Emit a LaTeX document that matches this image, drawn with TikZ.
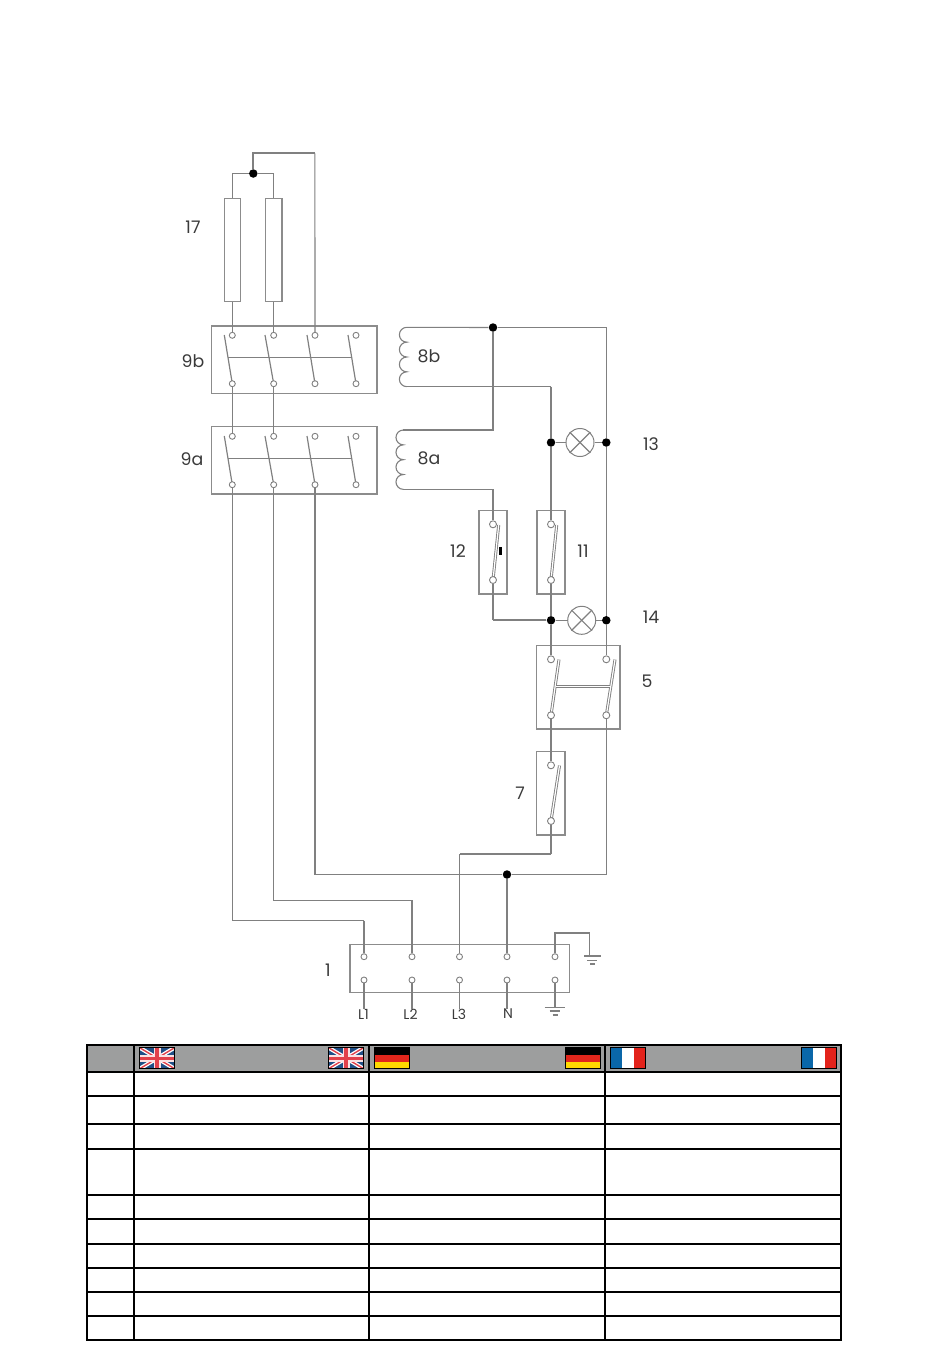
\documentclass[tikz,border=0pt]{standalone}
\usepackage{fontspec}
\setmainfont{Poppins}
\def\px{0.75pt}
\definecolor{wirecol}{HTML}{808080}
\definecolor{boxcol}{HTML}{8C8C8C}
\definecolor{hdr}{HTML}{9D9E9E}
\definecolor{labcol}{HTML}{3A3A3A}
\definecolor{ukblue}{HTML}{1F4E86}
\definecolor{ukred}{HTML}{E2414B}
\definecolor{derd}{HTML}{E1261C}
\definecolor{degd}{HTML}{FFD800}
\definecolor{frbl}{HTML}{0A67A9}
\definecolor{frrd}{HTML}{E3231B}
\tikzset{
  wire/.style={draw=wirecol,line width=1.1*\px},
  hwire/.style={draw=wirecol,line width=1.7*\px},
  devbox/.style={draw=boxcol,line width=1.2*\px,rectangle,inner sep=0pt},
  term/.style={circle,draw=wirecol,fill=white,line width=0.9*\px,minimum size=6*\px,inner sep=0pt},
  junc/.style={circle,fill=black,minimum size=8.5*\px,inner sep=0pt},
  lamp/.style={circle,draw=wirecol,line width=1*\px,minimum size=28*\px,inner sep=0pt},
  blade/.style={draw=wirecol,line width=1.2*\px},
  dblade/.style={draw=wirecol,line width=0.9*\px,double=white,double distance=1.2*\px},
  lab/.style={text=labcol,font=\fontsize{13}{15}\selectfont,inner sep=0pt},
  slab/.style={text=labcol,font=\fontsize{10.5}{12}\selectfont,inner sep=0pt},
  grid/.style={draw=black,line width=2*\px},
}
\newcommand{\ukflag}[2]{%
  \begin{scope}[shift={(#1,#2)}]
    \begin{scope}
      \clip (0,0) rectangle (35.5,21.4);
      \fill[ukblue] (0,0) rectangle (35.5,21.4);
      \draw[white,line width=4*\px] (0,0) -- (35.5,21.4) (0,21.4) -- (35.5,0);
      \draw[ukred,line width=1.4*\px] (0,0) -- (35.5,21.4) (0,21.4) -- (35.5,0);
      \draw[white!85!ukred,line width=7*\px] (17.75,0) -- (17.75,21.4) (0,10.7) -- (35.5,10.7);
      \draw[ukred,line width=3.4*\px] (17.75,0) -- (17.75,21.4) (0,10.7) -- (35.5,10.7);
    \end{scope}
    \draw[black,line width=1*\px] (0,0) rectangle (35.5,21.4);
  \end{scope}}
\newcommand{\deflag}[2]{%
  \begin{scope}[shift={(#1,#2)}]
    \fill[black] (0,0) rectangle (35.5,7.1);
    \fill[derd] (0,7.1) rectangle (35.5,14.2);
    \fill[degd] (0,14.2) rectangle (35.5,21.4);
    \draw[black,line width=1*\px] (0,0) rectangle (35.5,21.4);
  \end{scope}}
\newcommand{\frflag}[2]{%
  \begin{scope}[shift={(#1,#2)}]
    \fill[frbl] (0,0) rectangle (11.8,21.4);
    \fill[white] (11.8,0) rectangle (23.7,21.4);
    \fill[frrd] (23.7,0) rectangle (35.5,21.4);
    \draw[black,line width=1*\px] (0,0) rectangle (35.5,21.4);
  \end{scope}}
\begin{document}
\begin{tikzpicture}[x=0.75pt,y=-0.75pt]
\useasboundingbox (0,0) rectangle (950,1360);

% ---------- device boxes
\node[devbox,minimum width=16.4*\px,minimum height=103.4*\px] (fuseA) at (232.3,250) {};
\node[devbox,minimum width=16.4*\px,minimum height=103.4*\px] (fuseB) at (273.7,250) {};
\node[devbox,minimum width=165.3*\px,minimum height=67.3*\px] (box9b) at (294.4,359.7) {};
\node[devbox,minimum width=165.3*\px,minimum height=67.3*\px] (box9a) at (294.4,460.4) {};
\node[devbox,minimum width=28*\px,minimum height=83.3*\px] (box12) at (493,552.4) {};
\node[devbox,minimum width=28*\px,minimum height=83.3*\px] (box11) at (551,552.4) {};
\node[devbox,minimum width=83.3*\px,minimum height=83.3*\px] (box5) at (578.4,687.4) {};
\node[devbox,minimum width=28.3*\px,minimum height=83.3*\px] (box7) at (550.9,793.4) {};
\node[devbox,minimum width=219.3*\px,minimum height=48.4*\px] (box1) at (459.6,968.5) {};

% ---------- blades of contactors (under the terminals)
\foreach \n/\x/\f in {a/232.3/224.3,b/273.7/265,c/315/307,d/356/348}{
  \coordinate (fb\n) at (\f,335);
  \coordinate (fa\n) at (\f,436);
  \coordinate (eb\n) at (\x,383.7);
  \coordinate (ea\n) at (\x,484.7);
  \draw[blade] (fb\n) -- (eb\n);
  \draw[blade] (fa\n) -- (ea\n);
}
\foreach \n/\x in {a/232.3,b/273.7,c/315,d/356}{
  \node[term] (TbT\n) at (\x,335.3) {};
  \node[term] (TbB\n) at (\x,383.7) {};
  \node[term] (TaT\n) at (\x,436.3) {};
  \node[term] (TaB\n) at (\x,484.7) {};
}
\coordinate (tb1) at (228.3,357.7); \coordinate (tb2) at (351.7,357.7);
\coordinate (ta1) at (228.3,458.7); \coordinate (ta2) at (351.7,458.7);
\draw[blade] (tb1) -- (tb2);
\draw[blade] (ta1) -- (ta2);

% ---------- double-line switch blades
\coordinate (b12) at (498.7,525); \coordinate (e12) at (493,580);
\coordinate (b11) at (556.7,525); \coordinate (e11) at (551,580);
\coordinate (b5a) at (559,659.5); \coordinate (e5a) at (551,715.3);
\coordinate (b5b) at (615,659.5); \coordinate (e5b) at (606.3,715.3);
\coordinate (b7) at (559.5,765.5); \coordinate (e7) at (551,821);
\draw[dblade] (b12) -- (e12);
\draw[dblade] (b11) -- (e11);
\draw[dblade] (b5a) -- (e5a);
\draw[dblade] (b5b) -- (e5b);
\draw[dblade] (b7) -- (e7);
\coordinate (t5a) at (556.3,686.3); \coordinate (t5b) at (609.5,686.3);
\draw[dblade] (t5a) -- (t5b);
\fill[black] (498.7,547) rectangle (501.7,554.5);

% ---------- switch terminals
\node[term,minimum size=7*\px] (T12a) at (493,524.3) {};
\node[term,minimum size=7*\px] (T12b) at (493,580) {};
\node[term,minimum size=7*\px] (T11a) at (551,524.3) {};
\node[term,minimum size=7*\px] (T11b) at (551,580) {};
\node[term,minimum size=7*\px] (T5a) at (551,659.3) {};
\node[term,minimum size=7*\px] (T5b) at (606.3,659.3) {};
\node[term,minimum size=7*\px] (T5c) at (551,715.3) {};
\node[term,minimum size=7*\px] (T5d) at (606.3,715.3) {};
\node[term,minimum size=7*\px] (T7a) at (551,765.3) {};
\node[term,minimum size=7*\px] (T7b) at (551,821) {};

% ---------- terminal block
\foreach \n/\x in {a/364,b/412,c/459.5,d/507,e/555}{
  \node[term] (U\n) at (\x,956.7) {};
  \node[term] (D\n) at (\x,980) {};
}

% ---------- junctions and lamps
\node[junc] (J17) at (253.3,173.5) {};
\node[junc] (J8) at (493,327.5) {};
\node[junc] (J13a) at (551,442.5) {};
\node[junc] (J13b) at (606.3,442.5) {};
\node[junc] (J14a) at (551,620.3) {};
\node[junc] (J14b) at (606.3,620.3) {};
\node[junc] (JN) at (507,874.5) {};
\node[lamp] (L13) at (580,442.5) {};
\node[lamp] (L14) at (581.7,620.3) {};
\foreach \l in {L13,L14}{
  \draw[wire] (\l.45) -- (\l.225);
  \draw[wire] (\l.135) -- (\l.315);
}

% ---------- coils
\coordinate (c8bT) at (406.8,327.3); \coordinate (c8bB) at (406.8,386.7);
\coordinate (c8aT) at (403.4,430); \coordinate (c8aB) at (403.4,489.3);
\draw[wire] (c8bT) arc[start angle=90,end angle=270,radius=7.42*\px]
  arc[start angle=90,end angle=270,radius=7.42*\px]
  arc[start angle=90,end angle=270,radius=7.42*\px]
  arc[start angle=90,end angle=270,radius=7.42*\px];
\draw[wire] (c8aT) arc[start angle=90,end angle=270,radius=7.42*\px]
  arc[start angle=90,end angle=270,radius=7.42*\px]
  arc[start angle=90,end angle=270,radius=7.42*\px]
  arc[start angle=90,end angle=270,radius=7.42*\px];

% ---------- wiring
\coordinate (top) at (314.9,153.3);
\draw[wire] (J17) -| (fuseA.north);
\draw[wire] (J17) -| (fuseB.north);
\draw[hwire] (J17) |- (top);
\draw[wire] (top) -- (TbTc);
\draw[wire] (fuseA.south) -- (TbTa);
\draw[wire] (fuseB.south) -- (TbTb);
\draw[wire] (TbBa) -- (TaTa);
\draw[wire] (TbBb) -- (TaTb);

\coordinate (L1c) at (364,920.5);
\coordinate (L2c) at (412,900.5);
\coordinate (L1b) at (232.3,920.5);
\coordinate (L2b) at (273.7,900.5);
\coordinate (L3b) at (315,874.5);
\draw[wire] (TaBa) -- (L1b) -- (L1c);
\draw[hwire] (L1c) -- (Ua);
\draw[wire] (TaBb) -- (L2b) -- (L2c) -- (Ub);
\draw[wire] (TaBc) -- (L3b);
\draw[hwire] (L3b) -- (JN);
\coordinate (R0) at (606.3,327.5);
\coordinate (R1) at (606.3,874.5);
\draw[wire] (J8) -- (R0) -- (J13b) -- (J14b) -- (T5b);
\draw[wire] (T5d) -- (R1);
\draw[hwire] (JN) -- (R1);
\draw[wire] (JN) -- (Ud);
\coordinate (c1) at (493,430);
\draw[wire] (J8) -- (c1) -- (c8aT);
\draw[wire] (J8) -- (c8bT);
\coordinate (c2) at (551,386.7);
\draw[wire] (c8bB) -- (c2);
\draw[hwire] (c2) -- (J13a) -- (T11a);
\coordinate (c3) at (493,489.3);
\draw[wire] (c8aB) -- (c3) -- (T12a);
\coordinate (c4) at (493,620.3);
\draw[wire] (T12b) -- (c4);
\draw[hwire] (c4) -- (J14a);
\draw[hwire] (T11b) -- (J14a) -- (T5a);
\draw[wire] (J13a) -- (L13);
\draw[wire] (L13) -- (J13b);
\draw[wire] (J14a) -- (L14);
\draw[wire] (L14) -- (J14b);
\draw[hwire] (T5c) -- (T7a);
\coordinate (c5) at (551,854);
\coordinate (c6) at (459.5,854);
\draw[hwire] (T7b) -- (c5);
\draw[wire] (c5) -- (c6);
\draw[hwire] (c6) -- (Uc);

% ---------- terminal block outputs and earths
\coordinate (gr0) at (555,933);
\coordinate (gr1) at (589.5,933);
\coordinate (gr2) at (589.5,956);
\draw[wire] (Ue) -- (gr0) -- (gr1) -- (gr2);
\coordinate (ge1a) at (584,956); \coordinate (ge1b) at (600.5,956);
\coordinate (ge2a) at (587,960.5); \coordinate (ge2b) at (597,960.5);
\coordinate (ge3a) at (590,964); \coordinate (ge3b) at (595,964);
\draw[wire] (ge1a) -- (ge1b) (ge2a) -- (ge2b) (ge3a) -- (ge3b);
\coordinate (e1) at (555,1007.3);
\draw[wire] (De) -- (e1);
\coordinate (he1a) at (544.5,1007.3); \coordinate (he1b) at (565,1007.3);
\coordinate (he2a) at (549.5,1011); \coordinate (he2b) at (560,1011);
\coordinate (he3a) at (552.5,1015); \coordinate (he3b) at (557.5,1015);
\draw[wire] (he1a) -- (he1b) (he2a) -- (he2b) (he3a) -- (he3b);

% ---------- labels
\node[lab] (l17) at (193,227) {17};
\node[lab] (l9b) at (193,361) {9b};
\node[lab] (l9a) at (192,459) {9a};
\node[lab] (l8b) at (429,356) {8b};
\node[lab] (l8a) at (429,458) {8a};
\node[lab] (l13) at (651,444) {13};
\node[lab] (l12) at (458,551) {12};
\node[lab] (l11) at (583,551) {11};
\node[lab] (l14) at (651,617) {14};
\node[lab] (l5) at (647,681) {5};
\node[lab] (l7) at (520,793) {7};
\node[lab] (l1) at (328,970) {1};
\node[slab] (lL1) at (363.5,1014) {L1};
\node[slab] (lL2) at (410.5,1014) {L2};
\node[slab] (lL3) at (459,1014) {L3};
\node[slab] (lN) at (508,1014) {N};
\draw[hwire] (Da) -- (lL1.north -| Da);
\draw[hwire] (Db) -- (lL2.north -| Db);
\draw[hwire] (Dc) -- (lL3.north -| Dc);
\draw[wire] (Dd) -- (lN.north -| Dd);

% ---------- table
\fill[hdr] (87,1045) rectangle (841,1072);
\foreach \y in {1045,1072,1096,1124,1149,1195,1219,1244,1268,1292,1316,1340}{
  \draw[grid] (86,\y) -- (842,\y);
}
\foreach \x in {87,134,369,605,841}{
  \draw[grid] (\x,1044) -- (\x,1341);
}
\ukflag{139.4}{1047.5}
\ukflag{328.3}{1047.5}
\deflag{374.4}{1047.5}
\deflag{565.2}{1047.5}
\frflag{610.4}{1047.5}
\frflag{801}{1047.5}
\end{tikzpicture}
\end{document}
